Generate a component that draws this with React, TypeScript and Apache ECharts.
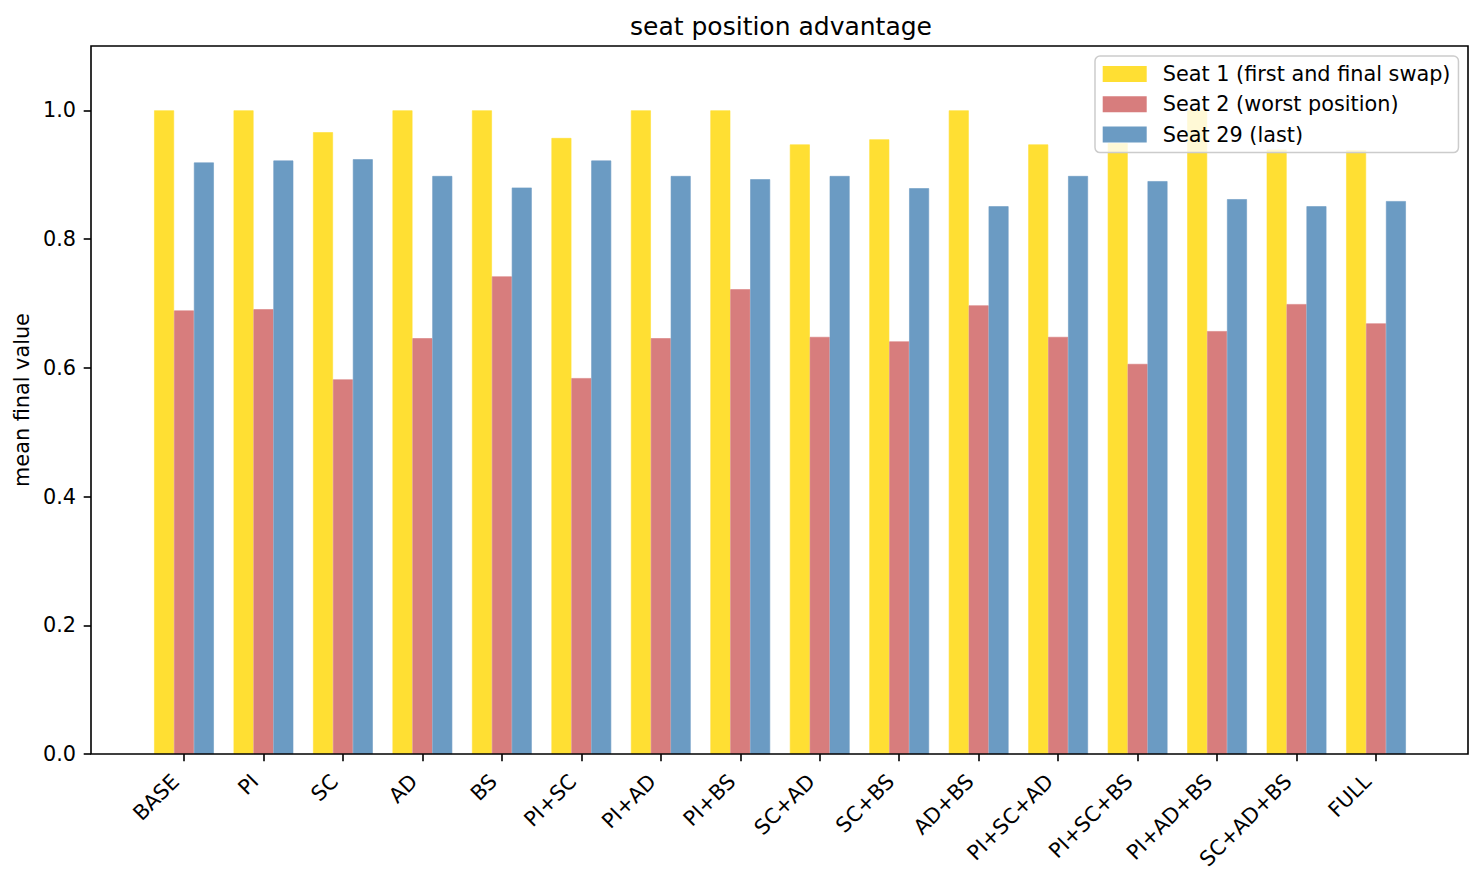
import React, { useEffect, useRef } from "react";
import * as echarts from "echarts";

const categories = [
  "BASE", "PI", "SC", "AD", "BS", "PI+SC", "PI+AD", "PI+BS",
  "SC+AD", "SC+BS", "AD+BS", "PI+SC+AD", "PI+SC+BS", "PI+AD+BS", "SC+AD+BS", "FULL",
];
const seat1 = [1.0, 1.0, 0.966, 1.0, 1.0, 0.957, 1.0, 1.0, 0.947, 0.955, 1.0, 0.947, 0.949, 1.0, 0.939, 0.938];
const seat2 = [0.689, 0.691, 0.582, 0.646, 0.742, 0.584, 0.646, 0.722, 0.648, 0.641, 0.697, 0.648, 0.606, 0.657, 0.699, 0.669];
const seat29 = [0.919, 0.922, 0.924, 0.898, 0.880, 0.922, 0.898, 0.893, 0.898, 0.879, 0.851, 0.898, 0.890, 0.862, 0.851, 0.859];
const yTicks = [0, 0.2, 0.4, 0.6, 0.8, 1.0];
const seriesNames = ["Seat 1 (first and final swap)", "Seat 2 (worst position)", "Seat 29 (last)"];
const seriesColors = ["#FFDF33", "#D77D7D", "#6B9BC3"];

const FONT = "DejaVu Sans";

export default function App() {
  const ref = useRef<HTMLDivElement>(null);
  useEffect(() => {
    if (!ref.current) return;
    const chart = echarts.init(ref.current, undefined, { renderer: "svg" });
    const data = [seat1, seat2, seat29];
    chart.setOption({
      animation: false,
      backgroundColor: "#ffffff",
      title: {
        text: "seat position advantage",
        left: 776,
        top: 9,
        textAlign: "center",
        textStyle: { fontFamily: FONT, fontSize: 25, fontWeight: "normal", color: "#000" },
      },
      legend: {
        orient: "vertical",
        left: 1095,
        top: 56,
        padding: [7.5, 8, 7.5, 7.7],
        itemWidth: 42,
        itemHeight: 14,
        itemGap: 9.3,
        icon: "rect",
        backgroundColor: "rgba(255,255,255,0.8)",
        borderColor: "#cccccc",
        borderWidth: 1.5,
        borderRadius: 5,
        textStyle: { fontFamily: FONT, fontSize: 20.8, color: "#000", padding: [0, 0, 0, 12] },
        data: seriesNames,
        z: 10,
      },
      grid: { left: 144.25, right: 67.25, top: 46, bottom: 129, containLabel: false },
      xAxis: {
        type: "category",
        data: categories,
        axisLine: { show: false },
        axisTick: { show: true, alignWithLabel: true, length: 7.3, lineStyle: { color: "#000", width: 1.6 } },
        axisLabel: {
          rotate: 45,
          margin: 15.5,
          padding: [0, 12, 0, 0],
          fontFamily: FONT,
          fontSize: 20.8,
          color: "#000",
          interval: 0,
        },
        splitLine: { show: false },
      },
      yAxis: {
        type: "value",
        min: 0,
        max: 1.1,
        interval: 0.2,
        offset: 53.25,
        name: "mean final value",
        nameLocation: "middle",
        nameGap: 56,
        nameTextStyle: { fontFamily: FONT, fontSize: 20.8, color: "#000" },
        axisLine: { show: false },
        axisTick: { show: true, length: 7.3, lineStyle: { color: "#000", width: 1.6 }, customValues: yTicks },
        axisLabel: {
          margin: 15,
          fontFamily: FONT,
          fontSize: 20.8,
          color: "#000",
          customValues: yTicks,
          formatter: (v: number) => v.toFixed(1),
        },
        splitLine: { show: false },
      },
      series: seriesNames.map((name, i) => ({
        name,
        type: "bar",
        data: data[i],
        barWidth: 19.9,
        barGap: "0%",
        itemStyle: { color: seriesColors[i], borderColor: seriesColors[i], borderWidth: 0.6 },
      })),
      graphic: [
        {
          type: "rect",
          shape: { x: 91, y: 46, width: 1377, height: 708 },
          style: { fill: "none", stroke: "#000", lineWidth: 1.6 },
          z: 5,
          silent: true,
        },
      ],
    });
    return () => chart.dispose();
  }, []);
  return (
    <div
      ref={ref}
      style={{ position: "fixed", left: 0, top: 0, width: 1483, height: 883, background: "#fff" }}
    />
  );
}
